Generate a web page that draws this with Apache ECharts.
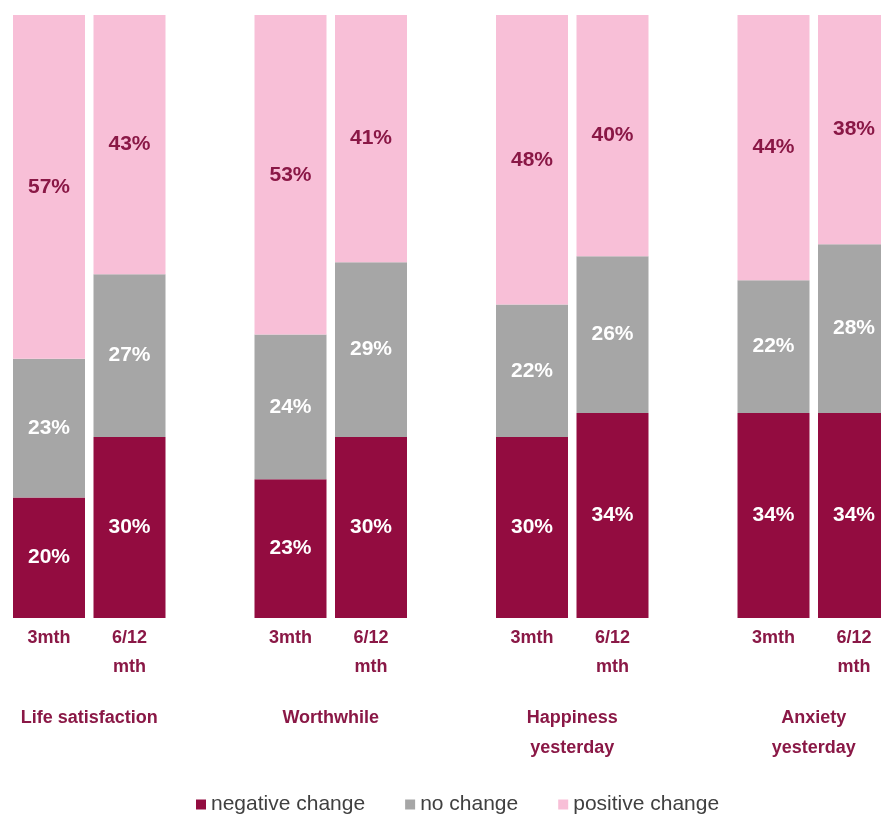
<!DOCTYPE html>
<html>
<head>
<meta charset="utf-8">
<script src="https://cdn.jsdelivr.net/npm/echarts@6/dist/echarts.min.js"></script>
<style>
  html, body { margin: 0; padding: 0; background: #ffffff; }
  #chart { width: 881px; height: 814px; }
</style>
</head>
<body>
<div id="chart"></div>
<script>
// Wellbeing measures and the two follow-up periods
const groups = ['Life satisfaction', 'Worthwhile', 'Happiness\nyesterday', 'Anxiety\nyesterday'];
const periods = ['3mth', '6/12\nmth'];

// Share of respondents (%) per bar, in order: group x period
const negativeChange = [20, 30, 23, 30, 30, 34, 34, 34];
const noChange       = [23, 27, 24, 29, 22, 26, 22, 28];
const positiveChange = [57, 43, 53, 41, 48, 40, 44, 38];

const seriesNames = ['negative change', 'no change', 'positive change'];

// Lay bars out on a category axis with an empty slot between groups
const slots = [];
const slotIndex = [];
groups.forEach((g, gi) => {
  if (gi > 0) slots.push('');
  periods.forEach(p => { slotIndex.push(slots.length); slots.push(p); });
});
function spread(values) {
  const out = slots.map(() => '-');
  values.forEach((v, i) => { out[slotIndex[i]] = v; });
  return out;
}
const groupCentres = groups.map((g, gi) => (slotIndex[gi * 2] + slotIndex[gi * 2 + 1]) / 2);

const font = "'Liberation Sans', Arial, sans-serif";
const maroon = '#930C40';
const grey = '#A6A6A6';
const pink = '#F8BFD7';
const textMaroon = '#8A1846';

function barSeries(name, values, color, labelColor) {
  return {
    name: name,
    type: 'bar',
    stack: 'total',
    barWidth: 72,
    xAxisIndex: 0,
    data: spread(values),
    itemStyle: { color: color },
    label: {
      show: true,
      position: 'inside',
      formatter: '{c}%',
      color: labelColor,
      fontFamily: font,
      fontWeight: 'bold',
      fontSize: 21
    },
    emphasis: { disabled: true }
  };
}

const chart = echarts.init(document.getElementById('chart'), null, { renderer: 'canvas' });
chart.setOption({
  animation: false,
  backgroundColor: '#ffffff',
  // the plot runs past the right edge, so the last bar is cut off
  grid: {
    left: 8.75, width: 885.5, top: 15, bottom: 196,
    containLabel: false, outerBoundsMode: 'none'
  },
  xAxis: [
    {
      type: 'category',
      data: slots,
      position: 'bottom',
      axisLine: { show: false },
      axisTick: { show: false },
      axisLabel: {
        interval: 0,
        margin: 6,
        color: textMaroon,
        fontFamily: font,
        fontWeight: 'bold',
        fontSize: 18,
        lineHeight: 29,
        verticalAlign: 'top'
      }
    },
    {
      type: 'value',
      min: -0.5,
      max: slots.length - 0.5,
      position: 'bottom',
      offset: 77,
      axisLine: { show: false },
      axisTick: { show: false },
      splitLine: { show: false },
      axisLabel: {
        customValues: groupCentres,
        margin: 8,
        color: textMaroon,
        fontFamily: font,
        fontWeight: 'bold',
        fontSize: 18,
        lineHeight: 30,
        verticalAlign: 'top',
        formatter: v => {
          const i = groupCentres.findIndex(c => Math.abs(c - v) < 0.01);
          return i >= 0 ? groups[i] : '';
        }
      }
    }
  ],
  yAxis: {
    type: 'value',
    min: 0,
    max: 100,
    show: false
  },
  legend: {
    data: seriesNames,
    top: 789,
    left: 191,
    icon: 'rect',
    itemWidth: 10,
    itemHeight: 10,
    itemGap: 40,
    textStyle: { color: '#404040', fontFamily: font, fontSize: 21 }
  },
  series: [
    barSeries(seriesNames[0], negativeChange, maroon, '#ffffff'),
    barSeries(seriesNames[1], noChange, grey, '#ffffff'),
    barSeries(seriesNames[2], positiveChange, pink, textMaroon)
  ]
});
</script>
</body>
</html>
